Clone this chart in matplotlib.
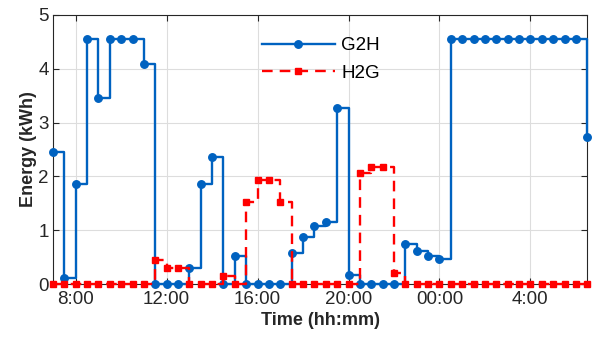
import numpy as np
import matplotlib
matplotlib.use("Agg")
import matplotlib.pyplot as plt

plt.rcParams["font.family"] = ["Liberation Sans", "DejaVu Sans"]

# =========================
# Data (30 min steps, 7:00 -> 6:30 next day)
# =========================

hours = np.arange(7.0, 31.0, 0.5)

g2h = [2.46, 0.12, 1.86, 4.56, 3.46, 4.56, 4.56, 4.56, 4.09,
       0, 0, 0, 0.29, 1.86, 2.36, 0, 0.52,
       0, 0, 0, 0, 0.585, 0.87, 1.08, 1.16, 3.27, 0.16,
       0, 0, 0, 0, 0.74, 0.62, 0.52, 0.47,
       4.56, 4.56, 4.56, 4.56, 4.56, 4.56, 4.56, 4.56, 4.56, 4.56, 4.56, 4.56,
       2.73]

h2g = [0, 0, 0, 0, 0, 0, 0, 0, 0,
       0.45, 0.30, 0.30, 0, 0, 0, 0.15, 0,
       1.53, 1.94, 1.94, 1.53,
       0, 0, 0, 0, 0, 0,
       2.06, 2.17, 2.17, 0.21,
       0, 0, 0, 0, 0, 0, 0, 0, 0, 0, 0, 0, 0, 0, 0, 0, 0]

tick_pos = [8, 12, 16, 20, 24, 28]
tick_labels = ["8:00", "12:00", "16:00", "20:00", "00:00", "4:00"]

# =========================
# Plot
# =========================

fig = plt.figure(figsize=(5.95, 3.39), dpi=100)
ax = fig.add_axes([0.089, 0.162, 0.898, 0.794])

blue = "#0062C0"
red = "#FF0000"

ax.step(hours, g2h, where="post", color=blue, linewidth=1.7,
        marker="o", markersize=5.4, label="G2H", zorder=3, clip_on=False)
ax.step(hours, h2g, where="post", color=red, linewidth=1.7,
        linestyle=(0, (4.5, 3)), marker="s", markersize=4.6,
        label="H2G", zorder=4, clip_on=False)

ax.set_xlim(7, 30.5)
ax.set_ylim(0, 5)
ax.set_xticks(tick_pos)
ax.set_xticklabels(tick_labels)
ax.set_yticks([0, 1, 2, 3, 4, 5])

ax.grid(True, color="#DDDDDD", linewidth=0.8)
ax.set_axisbelow(True)

ax.tick_params(direction="in", top=True, right=True, length=4,
               labelsize=13.5, colors="#262626", pad=3)
ax.tick_params(axis="x", pad=5)
for spine in ax.spines.values():
    spine.set_color("#262626")
    spine.set_linewidth(0.8)

ax.set_xlabel("Time (hh:mm)", fontsize=13, fontweight="bold", color="#262626", labelpad=3)
ax.set_ylabel("Energy (kWh)", fontsize=13, fontweight="bold", color="#262626", labelpad=1)

ax.legend(loc="upper left", bbox_to_anchor=(0.44, 0.89), bbox_transform=fig.transFigure,
          frameon=False, fontsize=13.5, handlelength=3.9, handletextpad=0.35,
          labelspacing=0.55, borderaxespad=0, borderpad=0)

fig.savefig("out.png", dpi=100)
